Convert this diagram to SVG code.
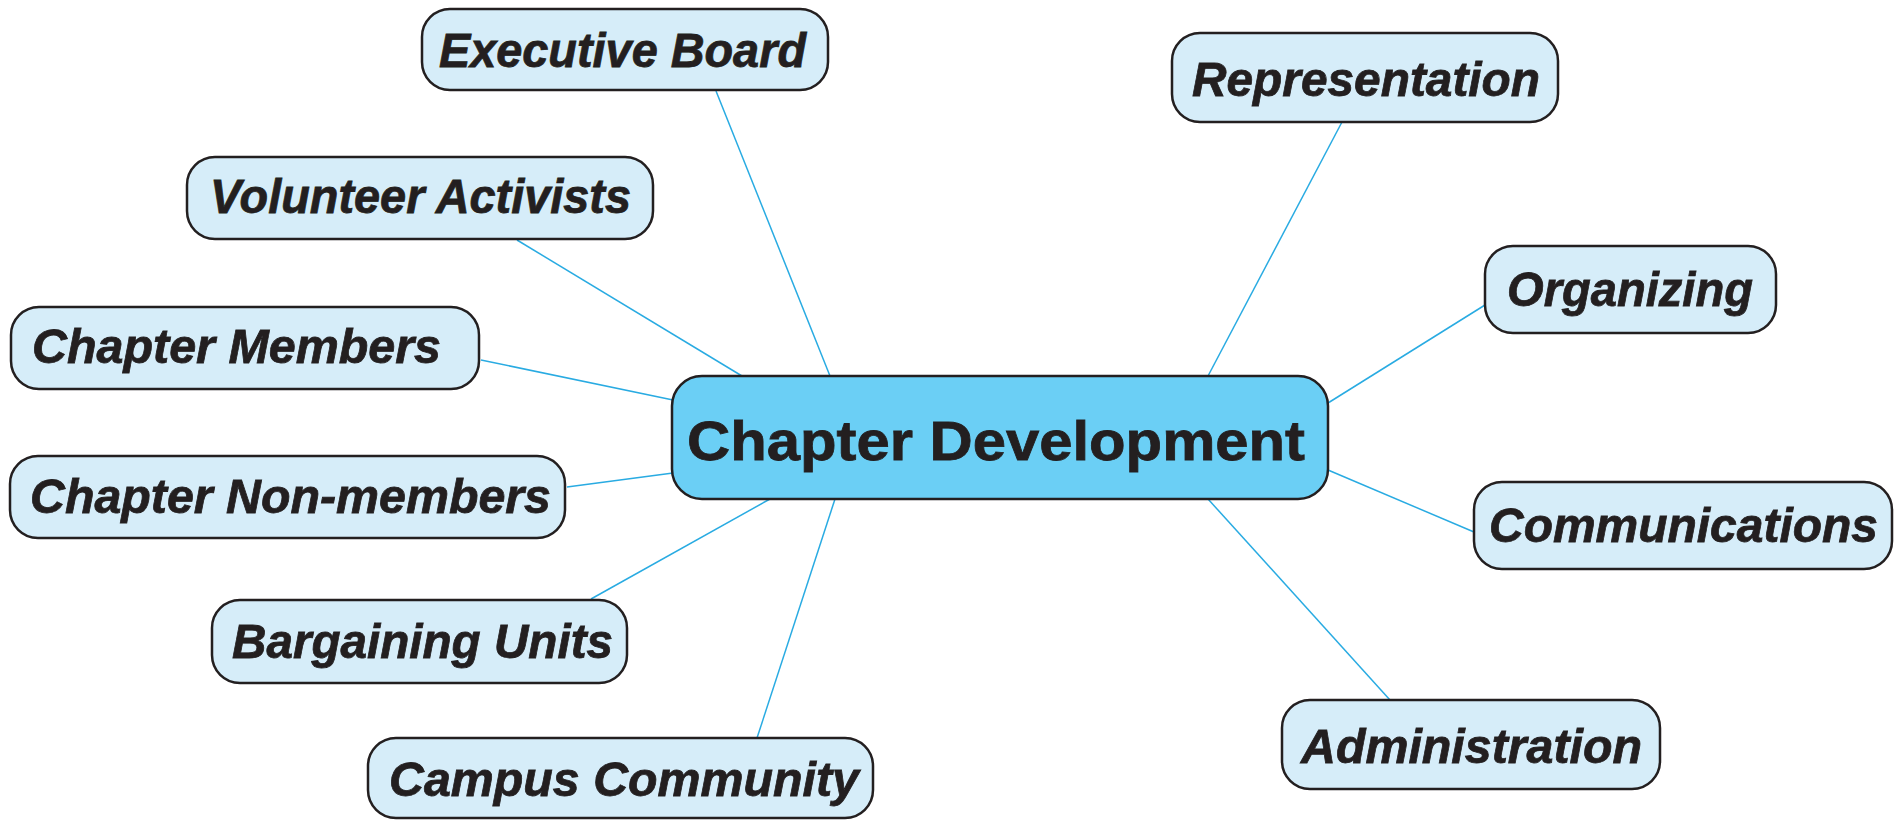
<svg xmlns="http://www.w3.org/2000/svg" width="1900" height="820" viewBox="0 0 1900 820">
<style>
.node rect{fill:#d6edf9;stroke:#231f20;stroke-width:2.5}
#center rect{fill:#6bcff5}
.lbl{font-family:"Liberation Sans",Arial,sans-serif;font-weight:bold;font-style:italic;font-size:49px;fill:#231f20;stroke:#231f20;stroke-width:0.8}
.main{font-family:"Liberation Sans",Arial,sans-serif;font-weight:bold;font-size:55px;fill:#231f20;stroke:#231f20;stroke-width:0.8}
#connectors line{stroke:#29abe2;stroke-width:1.5}
</style>
<rect width="1900" height="820" fill="#ffffff"/>
<g id="connectors">
<line x1="716" y1="91" x2="830" y2="376"/>
<line x1="517" y1="240" x2="742" y2="376"/>
<line x1="481" y1="360" x2="673" y2="400"/>
<line x1="567" y1="487" x2="673" y2="473"/>
<line x1="591" y1="599" x2="770" y2="499"/>
<line x1="757" y1="738" x2="835" y2="499"/>
<line x1="1342" y1="122" x2="1208" y2="376"/>
<line x1="1485" y1="305" x2="1328" y2="403"/>
<line x1="1328" y1="470" x2="1474" y2="532"/>
<line x1="1208" y1="499" x2="1390" y2="700"/>
</g>
<g id="center" class="node"><rect x="672" y="376" width="656" height="123" rx="30"/><text class="main" x="687" y="460" textLength="618" lengthAdjust="spacingAndGlyphs">Chapter Development</text></g>
<g id="executive-board" class="node"><rect x="422" y="9" width="406" height="81" rx="28"/><text class="lbl" x="439" y="67" textLength="367" lengthAdjust="spacingAndGlyphs">Executive Board</text></g>
<g id="volunteer-activists" class="node"><rect x="187" y="157" width="466" height="82" rx="28"/><text class="lbl" x="210" y="213" textLength="421" lengthAdjust="spacingAndGlyphs">Volunteer Activists</text></g>
<g id="chapter-members" class="node"><rect x="11" y="307" width="468" height="82" rx="28"/><text class="lbl" x="32" y="363" textLength="409" lengthAdjust="spacingAndGlyphs">Chapter Members</text></g>
<g id="chapter-non-members" class="node"><rect x="10" y="456" width="555" height="82" rx="28"/><text class="lbl" x="30" y="513" textLength="521" lengthAdjust="spacingAndGlyphs">Chapter Non-members</text></g>
<g id="bargaining-units" class="node"><rect x="212" y="600" width="415" height="83" rx="28"/><text class="lbl" x="232" y="658" textLength="381" lengthAdjust="spacingAndGlyphs">Bargaining Units</text></g>
<g id="campus-community" class="node"><rect x="368" y="738" width="505" height="80" rx="28"/><text class="lbl" x="389" y="796" textLength="470" lengthAdjust="spacingAndGlyphs">Campus Community</text></g>
<g id="representation" class="node"><rect x="1172" y="33" width="386" height="89" rx="28"/><text class="lbl" x="1192" y="96" textLength="348" lengthAdjust="spacingAndGlyphs">Representation</text></g>
<g id="organizing" class="node"><rect x="1485" y="246" width="291" height="87" rx="28"/><text class="lbl" x="1507" y="306" textLength="246" lengthAdjust="spacingAndGlyphs">Organizing</text></g>
<g id="communications" class="node"><rect x="1474" y="482" width="418" height="87" rx="28"/><text class="lbl" x="1489" y="542" textLength="389" lengthAdjust="spacingAndGlyphs">Communications</text></g>
<g id="administration" class="node"><rect x="1282" y="700" width="378" height="89" rx="28"/><text class="lbl" x="1301" y="763" textLength="341" lengthAdjust="spacingAndGlyphs">Administration</text></g>
</svg>
